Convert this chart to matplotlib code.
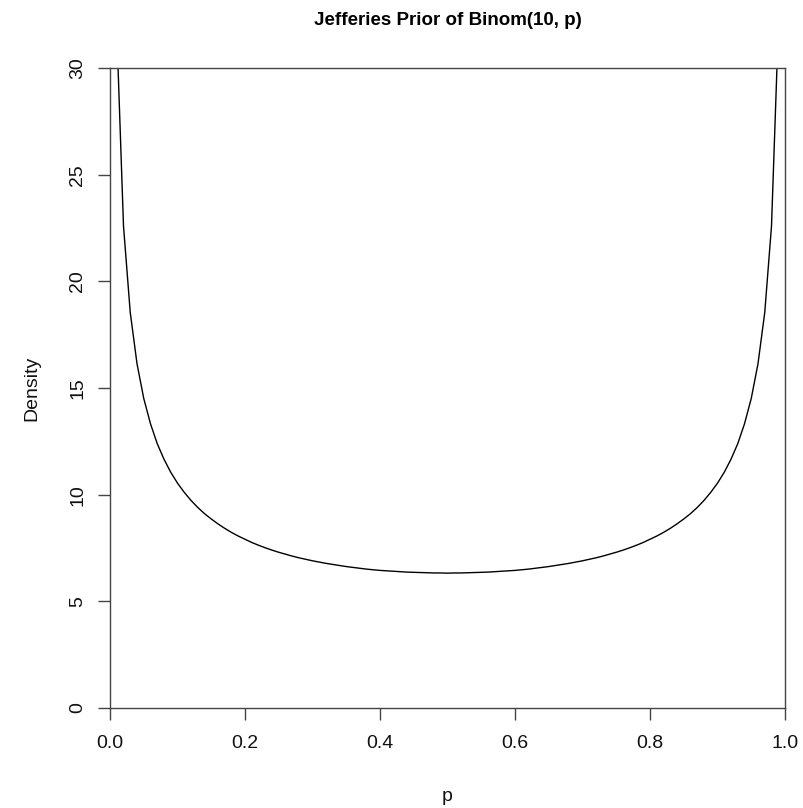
import matplotlib
matplotlib.use("Agg")
import matplotlib.pyplot as plt

# Values (p, density)
p_left = [0.01, 0.02, 0.03, 0.04, 0.05, 0.06, 0.07, 0.08, 0.09, 0.10,
          0.11, 0.12, 0.13, 0.14, 0.15, 0.16, 0.17, 0.18, 0.19, 0.20,
          0.21, 0.22, 0.23, 0.24, 0.25, 0.26, 0.27, 0.28, 0.29, 0.30,
          0.31, 0.32, 0.33, 0.34, 0.35, 0.36, 0.37, 0.38, 0.39, 0.40,
          0.41, 0.42, 0.43, 0.44, 0.45, 0.46, 0.47, 0.48, 0.49, 0.50]
dens_left = [31.78, 22.59, 18.54, 16.14, 14.51, 13.32, 12.39, 11.66, 11.05, 10.54,
             10.11, 9.73, 9.40, 9.11, 8.86, 8.63, 8.42, 8.23, 8.06, 7.91,
             7.76, 7.63, 7.51, 7.40, 7.30, 7.21, 7.12, 7.04, 6.97, 6.90,
             6.84, 6.78, 6.73, 6.68, 6.63, 6.59, 6.55, 6.51, 6.48, 6.45,
             6.43, 6.41, 6.39, 6.37, 6.36, 6.35, 6.34, 6.33, 6.33, 6.32]
p_right = [0.51, 0.52, 0.53, 0.54, 0.55, 0.56, 0.57, 0.58, 0.59, 0.60,
           0.61, 0.62, 0.63, 0.64, 0.65, 0.66, 0.67, 0.68, 0.69, 0.70,
           0.71, 0.72, 0.73, 0.74, 0.75, 0.76, 0.77, 0.78, 0.79, 0.80,
           0.81, 0.82, 0.83, 0.84, 0.85, 0.86, 0.87, 0.88, 0.89, 0.90,
           0.91, 0.92, 0.93, 0.94, 0.95, 0.96, 0.97, 0.98, 0.99]
dens_right = [6.33, 6.33, 6.34, 6.35, 6.36, 6.37, 6.39, 6.41, 6.43, 6.45,
              6.48, 6.51, 6.55, 6.59, 6.63, 6.68, 6.73, 6.78, 6.84, 6.90,
              6.97, 7.04, 7.12, 7.21, 7.30, 7.40, 7.51, 7.63, 7.76, 7.91,
              8.06, 8.23, 8.42, 8.63, 8.86, 9.11, 9.40, 9.73, 10.11, 10.54,
              11.05, 11.66, 12.39, 13.32, 14.51, 16.14, 18.54, 22.59, 31.78]

p_vals = p_left + p_right
density = dens_left + dens_right

x_ticks = [0.0, 0.2, 0.4, 0.6, 0.8, 1.0]
x_labels = ["0.0", "0.2", "0.4", "0.6", "0.8", "1.0"]
y_ticks = [0, 5, 10, 15, 20, 25, 30]
y_labels = ["0", "5", "10", "15", "20", "25", "30"]

title = "Jefferies Prior of Binom(10, p)"

plt.rcParams['font.family'] = ['Liberation Sans', 'DejaVu Sans']

W, H = 804, 808
fig = plt.figure(figsize=(W / 100, H / 100), dpi=100)
L, R, T, B = 110, 785, 68, 708
ax = fig.add_axes([L / W, 1 - B / H, (R - L) / W, (B - T) / H])

ax.plot(p_vals, density, color="black", lw=1.0)
ax.set_xlim(0, 1)
ax.set_ylim(0, 30)

ax.set_xticks(x_ticks)
ax.set_xticklabels(x_labels)
ax.set_yticks(y_ticks)
ax.set_yticklabels(y_labels, rotation=90, va="center")

frame_col = "#444444"
txt_col = "#111111"
fs = 14
for s in ax.spines.values():
    s.set_color(frame_col)
    s.set_linewidth(1.0)
ax.tick_params(axis="both", direction="out", length=8.6, width=1.0,
               color=frame_col, labelsize=fs, labelcolor=txt_col)
ax.tick_params(axis="x", pad=10.5)
ax.tick_params(axis="y", pad=8.5)

ax.set_xlabel("p", fontsize=fs, color=txt_col)
ax.xaxis.set_label_coords(0.5, -(801 - B) / (B - T))
ax.xaxis.label.set_va("baseline")
ax.set_ylabel("Density", fontsize=fs, color=txt_col)
ax.yaxis.set_label_coords(-(L - 32) / (R - L), 0.5)
ax.yaxis.label.set_va("center")

ax.text(0.5, 1 + (T - 25) / (B - T), title, transform=ax.transAxes,
        ha="center", va="baseline", fontsize=13.5, fontweight="bold")

fig.savefig("out.png", dpi=100)
